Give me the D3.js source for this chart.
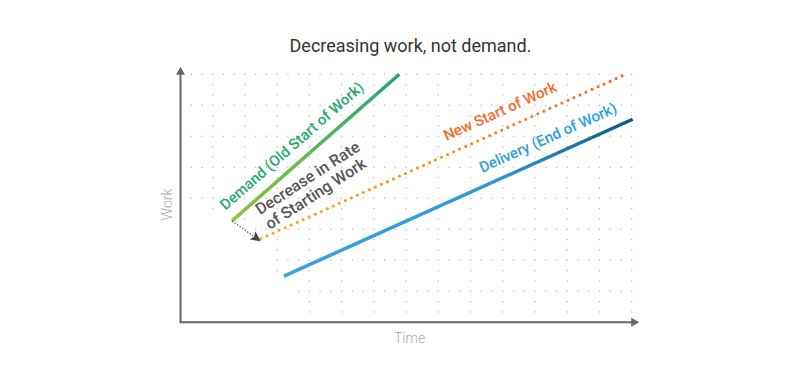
<!DOCTYPE html>
<html>
<head>
<meta charset="utf-8">
<script src="https://cdn.jsdelivr.net/npm/d3@7"></script>
<style>
  body { margin: 0; background: #fff; }
  text { font-family: Roboto, "Open Sans", sans-serif; }
</style>
</head>
<body>
<div id="chart"></div>
<script>
// chart values (x = time, y = work, both in grid units)
var timeCells = 14;
var workCells = 8;
var demand = [{t: 1.6, w: 3.27}, {t: 6.79, w: 8.0}];
var newStart = [{t: 2.5, w: 2.7}, {t: 13.77, w: 7.98}];
var delivery = [{t: 3.21, w: 1.49}, {t: 14.03, w: 6.55}];
// area of the grid left empty (lower left corner)
var gridGap = [[-0.2, -0.2], [-0.2, 3.85], [0.9, 3.5], [2.1, 3.0], [2.85, 1.85], [3.5, 1.0], [3.9, -0.2]];

var width = 800, height = 388;
var marginLeft = 180.5, marginTop = 74.3,
    chartWidth = 451.2, chartHeight = 248;

var svg = d3.select("#chart").append("svg")
    .attr("width", width)
    .attr("height", height);

var x = d3.scaleLinear().domain([0, timeCells]).range([marginLeft, marginLeft + chartWidth]);
var y = d3.scaleLinear().domain([0, workCells]).range([marginTop + chartHeight, marginTop]);

var defs = svg.append("defs");

// gradient along a segment
function gradient(id, pts, stops) {
    var g = defs.append("linearGradient")
        .attr("id", id)
        .attr("gradientUnits", "userSpaceOnUse")
        .attr("x1", x(pts[0].t)).attr("y1", y(pts[0].w))
        .attr("x2", x(pts[1].t)).attr("y2", y(pts[1].w));
    stops.forEach(function(s) {
        g.append("stop").attr("offset", s[0]).attr("stop-color", s[1]);
    });
}
gradient("gDemand", demand, [[0, "#8cc63f"], [0.35, "#6dba4c"], [1, "#22a57a"]]);
gradient("gStart", newStart, [[0, "#f9ac22"], [0.5, "#f7931e"], [1, "#f26a2b"]]);
gradient("gDelivery", delivery, [[0, "#36a3df"], [0.6, "#2f99d4"], [1, "#0b5986"]]);

defs.append("marker")
    .attr("id", "arrowSmall")
    .attr("viewBox", "0 0 10 10")
    .attr("refX", 8).attr("refY", 5)
    .attr("markerWidth", 10).attr("markerHeight", 10)
    .attr("markerUnits", "userSpaceOnUse")
    .attr("orient", "auto")
    .append("path")
    .attr("d", "M0,0 L10,5 L0,10 L2,5 Z")
    .attr("fill", "#444");

// dotted grid
var dots = [];
var step = 1 / 3;
for (var j = 1; j <= workCells; j++) {
    for (var i = 1; i <= timeCells * 3; i++) dots.push([i * step, j]);
}
for (var i = 1; i <= timeCells; i++) {
    for (var j = 1; j <= workCells * 3; j++) {
        if (j % 3 !== 0) dots.push([i, j * step]);
    }
}
dots = dots.filter(function(d) { return !d3.polygonContains(gridGap, d); });

svg.append("g").attr("class", "grid")
    .selectAll("rect").data(dots).enter().append("rect")
    .attr("x", function(d) { return x(d[0]) - 0.6; })
    .attr("y", function(d) { return y(d[1]) - 0.6; })
    .attr("width", 1.2).attr("height", 1.2)
    .attr("fill", "#b5b5b5");

// axes with arrow heads
var axisColor = "#666";
var xEnd = x(timeCells) + 7.5, yEnd = y(workCells) - 7.5;
svg.append("line")
    .attr("x1", x(0)).attr("y1", y(0))
    .attr("x2", xEnd - 6).attr("y2", y(0))
    .attr("stroke", axisColor).attr("stroke-width", 2);
svg.append("path")
    .attr("d", "M" + xEnd + "," + y(0) + " l-8,-4.5 l0,9 Z")
    .attr("fill", axisColor);
svg.append("line")
    .attr("x1", x(0)).attr("y1", y(0) + 1)
    .attr("x2", x(0)).attr("y2", yEnd + 6)
    .attr("stroke", axisColor).attr("stroke-width", 2);
svg.append("path")
    .attr("d", "M" + x(0) + "," + yEnd + " l-4.5,8 l9,0 Z")
    .attr("fill", axisColor);

// lines
var line = d3.line()
    .x(function(d) { return x(d.t); })
    .y(function(d) { return y(d.w); });

svg.append("path").datum(demand)
    .attr("d", line)
    .attr("fill", "none")
    .attr("stroke", "url(#gDemand)")
    .attr("stroke-width", 3.5);

svg.append("path").datum(newStart)
    .attr("d", line)
    .attr("fill", "none")
    .attr("stroke", "url(#gStart)")
    .attr("stroke-width", 3.2)
    .attr("stroke-linecap", "round")
    .attr("stroke-dasharray", "0,6.6");

svg.append("path").datum(delivery)
    .attr("d", line)
    .attr("fill", "none")
    .attr("stroke", "url(#gDelivery)")
    .attr("stroke-width", 3.5);

// dotted arrow from old start to new start
svg.append("line")
    .attr("x1", x(demand[0].t)).attr("y1", y(demand[0].w))
    .attr("x2", x(newStart[0].t) - 2).attr("y2", y(newStart[0].w) + 1.5)
    .attr("stroke", "#555").attr("stroke-width", 1.3)
    .attr("stroke-dasharray", "1.3,1.8")
    .attr("marker-end", "url(#arrowSmall)");

// labels along the lines
function angle(pts) {
    var dx = x(pts[1].t) - x(pts[0].t), dy = y(pts[1].w) - y(pts[0].w);
    return Math.atan2(dy, dx) * 180 / Math.PI;
}
function label(text, t, w, rot, color) {
    return svg.append("text")
        .attr("transform", "translate(" + x(t) + "," + y(w) + ") rotate(" + rot + ")")
        .attr("fill", color)
        .attr("font-size", 15)
        .attr("font-weight", 500)
        .text(text);
}
label("Demand (Old Start of Work)", 1.4, 3.6, angle(demand), "#27a86e");
label("New Start of Work", 8.25, 5.85, angle(newStart), "#f26b2b");
label("Delivery (End of Work)", 9.36, 4.82, angle(delivery), "#2f9fdc");

var dec = svg.append("text")
    .attr("transform", "translate(" + x(2.47) + "," + y(3.45) + ") rotate(-33)")
    .attr("fill", "#555")
    .attr("font-size", 16)
    .attr("font-weight", 500);
dec.append("tspan").attr("x", 0).attr("dy", 0).text("Decrease in Rate");
dec.append("tspan").attr("x", 0).attr("dy", 17.5).text("of Starting Work");

// title and axis titles
svg.append("text")
    .attr("x", 410.5).attr("y", 52)
    .attr("text-anchor", "middle")
    .attr("font-size", 18)
    .attr("fill", "#333")
    .text("Decreasing work, not demand.");

svg.append("text")
    .attr("x", x(timeCells / 2) + 3.5).attr("y", 343)
    .attr("text-anchor", "middle")
    .attr("font-size", 14)
    .attr("font-weight", 300)
    .attr("fill", "#aaa")
    .text("Time");

svg.append("text")
    .attr("transform", "translate(172," + y(workCells / 2 - 0.2) + ") rotate(-90)")
    .attr("text-anchor", "middle")
    .attr("font-size", 14)
    .attr("font-weight", 300)
    .attr("fill", "#aaa")
    .text("Work");
</script>
</body>
</html>
